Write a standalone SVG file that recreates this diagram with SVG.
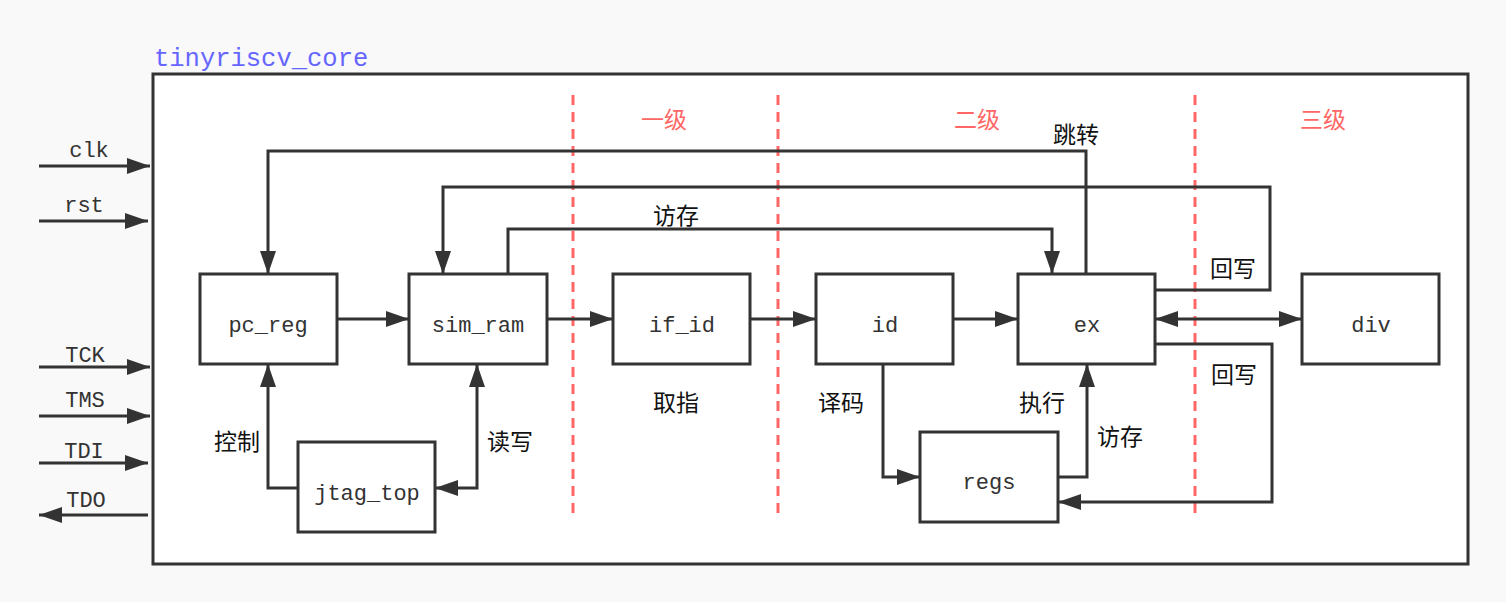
<svg xmlns="http://www.w3.org/2000/svg" width="1506" height="602" viewBox="0 0 1506 602">
<defs>
<marker id="ah" markerUnits="userSpaceOnUse" markerWidth="24" markerHeight="16" refX="23" refY="8" orient="auto-start-reverse">
<path d="M0,0 L23,8 L0,16 z" fill="#333"/>
</marker>
<style>
.box{fill:#fff;stroke:#333;stroke-width:3}
.ln{fill:none;stroke:#333;stroke-width:3}
.dash{fill:none;stroke:#ff6666;stroke-width:3;stroke-dasharray:10 7}
.code{font-family:"Liberation Mono","DejaVu Sans Mono",monospace;font-size:22px;fill:#333;text-anchor:middle}
.cn{font-family:"Liberation Serif","Noto Sans CJK SC",serif;font-size:23px;fill:#111;text-anchor:middle}
.stage{font-family:"Liberation Serif","Noto Sans CJK SC",serif;font-size:23px;fill:#ff6666;text-anchor:middle}
.title{font-family:"Liberation Mono",monospace;font-size:25.5px;fill:#6666ff}
</style>
</defs>
<rect x="0" y="0" width="1506" height="602" fill="#f9f9f9"/>
<g id="core">
<rect x="153" y="74" width="1315" height="490" class="box"/>
<text x="154" y="66" class="title">tinyriscv_core</text>
</g>
<g id="stages">
<line x1="573" y1="95" x2="573" y2="517" class="dash"/>
<line x1="778" y1="95" x2="778" y2="517" class="dash"/>
<line x1="1195" y1="95" x2="1195" y2="517" class="dash"/>
<text x="664" y="128" class="stage">一级</text>
<text x="977" y="128" class="stage">二级</text>
<text x="1323" y="128" class="stage">三级</text>
</g>
<g id="ports">
<text x="89" y="157" class="code">clk</text>
<text x="84" y="212" class="code">rst</text>
<text x="85" y="362" class="code">TCK</text>
<text x="85" y="407" class="code">TMS</text>
<text x="84" y="458" class="code">TDI</text>
<text x="86" y="507" class="code">TDO</text>
</g>
<g id="connectors">
<path d="M39,166 H150" class="ln" marker-end="url(#ah)"/>
<path d="M39,221 H148" class="ln" marker-end="url(#ah)"/>
<path d="M39,367 H150" class="ln" marker-end="url(#ah)"/>
<path d="M39,416 H150" class="ln" marker-end="url(#ah)"/>
<path d="M39,463 H148" class="ln" marker-end="url(#ah)"/>
<path d="M148,515 H39" class="ln" marker-end="url(#ah)"/>
<path d="M1086,274 V151 H268 V274" class="ln" marker-end="url(#ah)"/>
<path d="M1155,290 H1270 V187 H443 V274" class="ln" marker-end="url(#ah)"/>
<path d="M508,274 V229 H1052 V274" class="ln" marker-end="url(#ah)"/>
<path d="M337,319 H409" class="ln" marker-end="url(#ah)"/>
<path d="M547,319 H613" class="ln" marker-end="url(#ah)"/>
<path d="M750,319 H816" class="ln" marker-end="url(#ah)"/>
<path d="M953,319 H1018" class="ln" marker-end="url(#ah)"/>
<path d="M1155,319 H1302" class="ln" marker-start="url(#ah)" marker-end="url(#ah)"/>
<path d="M1155,344 H1272 V502 H1058" class="ln" marker-end="url(#ah)"/>
<path d="M883,364 V477 H920" class="ln" marker-end="url(#ah)"/>
<path d="M1058,477 H1087 V364" class="ln" marker-end="url(#ah)"/>
<path d="M298,488 H268 V364" class="ln" marker-end="url(#ah)"/>
<path d="M477,364 V488 H435" class="ln" marker-start="url(#ah)" marker-end="url(#ah)"/>
<text x="1076" y="143" class="cn">跳转</text>
<text x="1233" y="277" class="cn">回写</text>
<text x="676" y="224" class="cn">访存</text>
<text x="1234" y="383" class="cn">回写</text>
<text x="841" y="411" class="cn">译码</text>
<text x="676" y="411" class="cn">取指</text>
<text x="1042" y="411" class="cn">执行</text>
<text x="1120" y="445" class="cn">访存</text>
<text x="237" y="450" class="cn">控制</text>
<text x="510" y="450" class="cn">读写</text>
</g>
<g id="pc_reg"><rect x="200" y="274" width="137" height="90" class="box"/><text x="268" y="332" class="code">pc_reg</text></g>
<g id="sim_ram"><rect x="409" y="274" width="138" height="90" class="box"/><text x="478" y="332" class="code">sim_ram</text></g>
<g id="jtag_top"><rect x="298" y="442" width="137" height="90" class="box"/><text x="367" y="500" class="code">jtag_top</text></g>
<g id="if_id"><rect x="613" y="274" width="137" height="90" class="box"/><text x="682" y="332" class="code">if_id</text></g>
<g id="id"><rect x="816" y="274" width="137" height="90" class="box"/><text x="885" y="332" class="code">id</text></g>
<g id="ex"><rect x="1018" y="274" width="137" height="90" class="box"/><text x="1087" y="332" class="code">ex</text></g>
<g id="div"><rect x="1302" y="274" width="137" height="90" class="box"/><text x="1371" y="332" class="code">div</text></g>
<g id="regs"><rect x="920" y="432" width="138" height="90" class="box"/><text x="989" y="489" class="code">regs</text></g>
</svg>
